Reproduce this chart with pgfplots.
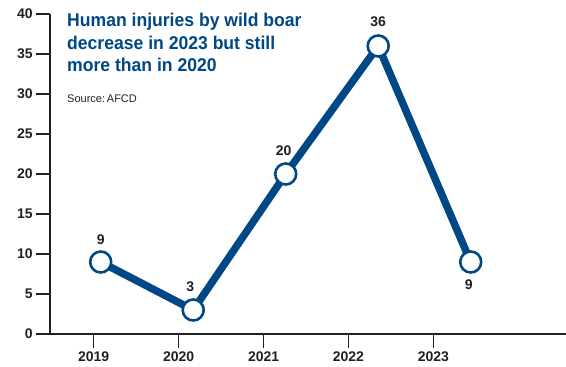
\documentclass[border=0pt]{standalone}
\usepackage{pgfplots}
\pgfplotsset{compat=1.18}
\usepackage{fontspec}
\setmainfont{Liberation Sans}
\newfontfamily\titlefont[FakeStretch=0.95]{Liberation Sans}
\definecolor{navy}{RGB}{0,71,133}
\definecolor{ink}{RGB}{35,31,32}
\begin{document}
\begin{tikzpicture}
\begin{axis}[
 scale only axis, width=516bp, height=320bp,
 xmin=2018.452, xmax=2024.030, ymin=0, ymax=40,
 axis x line=bottom, axis y line=left,
 axis line style={-, line width=1.2bp, draw=ink},
 xtick={2018.924,2019.843,2020.762,2021.677,2022.596},
 xticklabels={2019,2020,2021,2022,2023},
 ytick={0,5,...,40},
 tick align=outside, major tick length=14bp,
 every tick/.style={line width=1.2bp, draw=ink},
 ticklabel style={font=\fontsize{14bp}{16bp}\selectfont\bfseries, text=ink},
 /pgf/number format/assume math mode=true,
 clip=false,
]
\addplot[navy, line width=7.5bp, mark=*, mark size=10.5bp,
  mark options={fill=white, draw=navy, line width=2.6bp}]
  coordinates {(2019,9) (2020,3) (2021,20) (2022,36) (2023,9)};
\begin{scope}[every node/.style={inner sep=0pt, font=\fontsize{14bp}{16bp}\selectfont\bfseries, text=ink}]
\node[yshift=22bp] at (axis cs:2019,9) {9};
\node[yshift=23bp, xshift=-3bp] at (axis cs:2020,3) {3};
\node[yshift=23bp, xshift=-2bp] at (axis cs:2021,20) {20};
\node[yshift=24bp] at (axis cs:2022,36) {36};
\node[yshift=-23bp, xshift=-2bp] at (axis cs:2023,9) {9};
\end{scope}
\end{axis}
\node[anchor=base west, inner sep=0pt, text=navy, font=\titlefont\fontsize{18.5bp}{22bp}\selectfont\bfseries] at (17bp,307bp) {Human injuries by wild boar};
\node[anchor=base west, inner sep=0pt, text=navy, font=\titlefont\fontsize{18.5bp}{22bp}\selectfont\bfseries] at (17bp,284.5bp) {decrease in 2023 but still};
\node[anchor=base west, inner sep=0pt, text=navy, font=\titlefont\fontsize{18.5bp}{22bp}\selectfont\bfseries] at (17bp,262bp) {more than in 2020};
\node[anchor=base west, inner sep=0pt, text=ink, font=\fontsize{11bp}{13bp}\selectfont] at (17bp,231bp) {Source:\,AFCD};
\pgfresetboundingbox
\useasboundingbox (-50bp,-33bp) rectangle (516bp,334bp);
\end{tikzpicture}
\end{document}
